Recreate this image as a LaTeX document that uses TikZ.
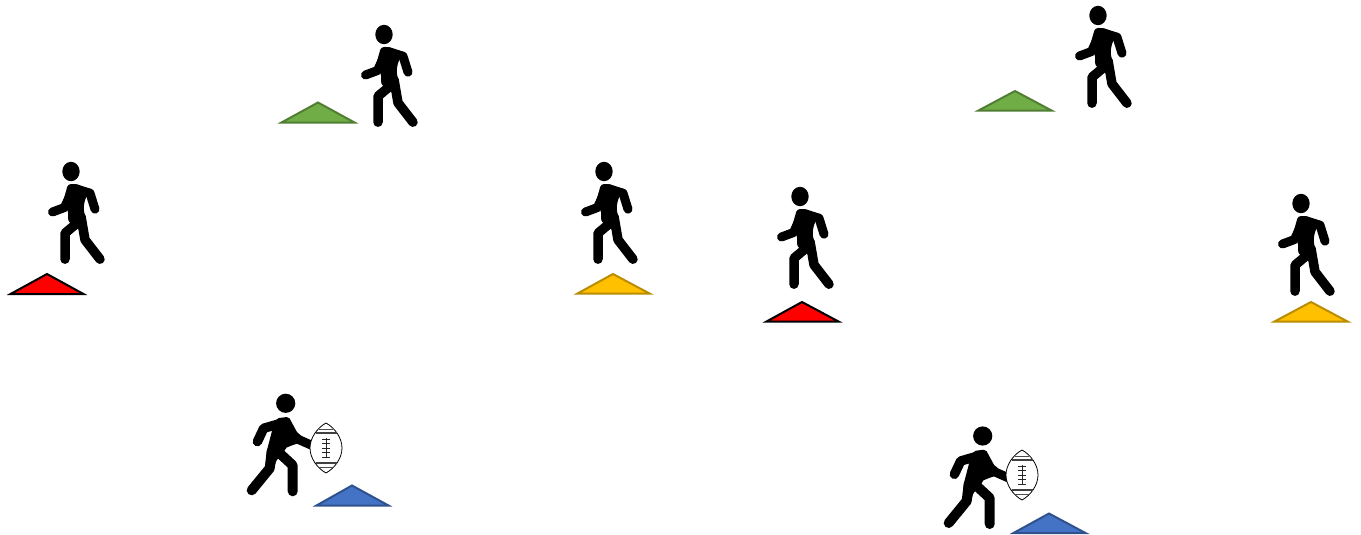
\documentclass[tikz,border=0pt]{standalone}
\definecolor{tgreen}{HTML}{70AD47}\definecolor{tgreenb}{HTML}{507E32}
\definecolor{tblue}{HTML}{4472C4}\definecolor{tblueb}{HTML}{2F528F}
\definecolor{tyellow}{HTML}{FFC000}\definecolor{tyellowb}{HTML}{BC8C00}
\tikzset{
  limb/.style={line width=9pt,line cap=round,line join=round,black},
  cone/.style n args={2}{fill=#1,draw=#2,line width=2pt,line join=miter},
  walker/.pic={
    \fill (0,0) ellipse [x radius=8.7pt,y radius=9.7pt];
    \fill[rounded corners=3pt] (-3,12.5) -- (5,12.5) -- (19,18) -- (14,28) -- (12.5,36) -- (17,66) -- (8,58) -- (-3,50) -- (-3,38) -- (-9,34) -- cycle;
    \draw[limb] (4,17) -- (19,21.7) -- (24,37.7);
    \draw[limb] (-1,24) -- (-6.5,36) -- (-18.5,40.5);
    \draw[limb,line width=9.5pt] (8,50) -- (-6,61.7) -- (-6,87.7);
    \draw[limb,line width=9.5pt] (10,45) -- (14,68.3) -- (29,87.7);
  },
  carrier/.pic={
    \fill (0,0) circle [radius=9.6pt];
    \fill[rounded corners=2pt] (-9,15) -- (3,13.5) -- (13,32) -- (13,40) -- (9,41) -- (-1,45) -- (-1,50) -- (-9,56) -- (-12,66) -- (-20,66) -- (-19,48) -- (-13,25) -- cycle;
    \draw[limb,line width=9.5pt] (-3,19.5) -- (-22,25) -- (-28.3,38.3);
    \draw[limb] (3,28) -- (13.5,36.5) -- (25.3,41.7);
    \draw[limb,line width=10pt] (-14,48) -- (-16,65) -- (-34,87);
    \draw[limb,line width=10pt] (-6,50) -- (7,62) -- (7,88);
  },
  ball/.pic={
    \draw[fill=white,line width=0.8pt] (0,-25) .. controls (9,-20) and (16,-10) .. (16,0) .. controls (16,10) and (9,20) .. (0,25) .. controls (-9,20) and (-16,10) .. (-16,0) .. controls (-16,-10) and (-9,-20) .. (0,-25) -- cycle;
    \draw[line width=0.7pt,black!70] (-7,-19) -- (7,-19) (-7,19) -- (7,19);
    \draw[line width=1.1pt,black!75] (-10.5,-15) -- (10.5,-15) (-10.5,15) -- (10.5,15);
    \draw[line width=0.9pt,black!85] (0,-10) -- (0,10) (-4,-9) -- (4,-9) (-4,-4.5) -- (4,-4.5) (-4,0) -- (4,0) (-4,4.5) -- (4,4.5) (-4,9) -- (4,9);
  }
}
\begin{document}
\begin{tikzpicture}[x=1pt,y=-1pt]
\useasboundingbox (0,0) rectangle (1361,535);
\pic at (71,171.5) {walker};
\pic at (384,34.5) {walker};
\pic at (604,171.5) {walker};
\pic at (800,196.5) {walker};
\pic at (1098,15.5) {walker};
\pic at (1301,203.5) {walker};
\pic at (285.7,403.3) {carrier};
\pic at (982.7,436) {carrier};
\pic at (326,448) {ball};
\pic at (1022,475) {ball};
\draw[cone={red}{black}] (10.5,294) -- (47,274) -- (83.5,294) -- cycle;
\draw[cone={red}{black}] (766.5,321.5) -- (802,302) -- (838.5,321.5) -- cycle;
\draw[cone={tgreen}{tgreenb}] (281.5,122.5) -- (318,102.5) -- (354.5,122.5) -- cycle;
\draw[cone={tgreen}{tgreenb}] (978.5,110.5) -- (1015,91) -- (1051.5,110.5) -- cycle;
\draw[cone={tyellow}{tyellowb}] (577.5,293.5) -- (613,274) -- (649.5,293.5) -- cycle;
\draw[cone={tyellow}{tyellowb}] (1274.5,321.5) -- (1311,302) -- (1347.5,321.5) -- cycle;
\draw[cone={tblue}{tblueb}] (316.5,505.5) -- (352,485.5) -- (388.5,505.5) -- cycle;
\draw[cone={tblue}{tblueb}] (1013.5,533) -- (1049,513.5) -- (1085.5,533) -- cycle;
\end{tikzpicture}
\end{document}
